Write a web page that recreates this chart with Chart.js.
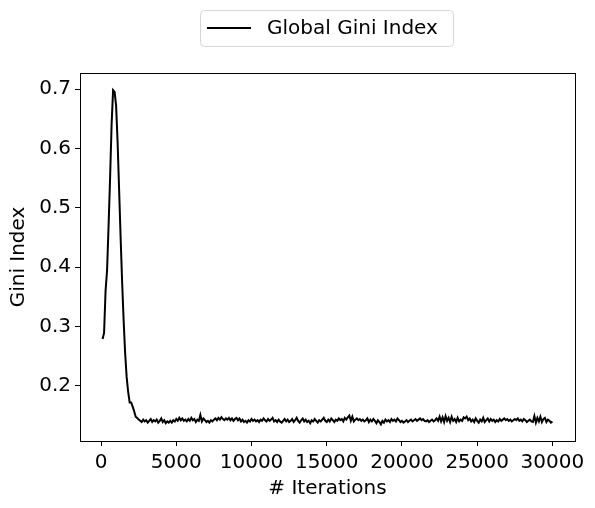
<!DOCTYPE html>
<html>
<head>
<meta charset="utf-8">
<script src="https://cdn.jsdelivr.net/npm/chart.js@4"></script>
<style>
  html, body { margin: 0; padding: 0; background: #fff; }
  #wrap { width: 595px; height: 508px; }
</style>
</head>
<body>
<div id="wrap"><canvas id="chart"></canvas></div>
<script>
// Gini index sampled every 100 iterations (100 .. 30000)
const ITER_STEP = 100;
const gini = [
  0.279, 0.289, 0.360, 0.395, 0.470, 0.550, 0.640, 0.698, 0.695, 0.672,
  0.610, 0.530, 0.450, 0.375, 0.310, 0.255, 0.215, 0.190, 0.172, 0.172,
  0.165, 0.157, 0.148, 0.146, 0.143,
  0.141, 0.139, 0.143, 0.140, 0.142, 0.138, 0.141, 0.144, 0.139, 0.142,
  0.140, 0.143, 0.138, 0.141, 0.145, 0.139, 0.142, 0.137, 0.140, 0.138,
  0.141, 0.138, 0.142, 0.140, 0.144, 0.141, 0.146, 0.142, 0.145, 0.141,
  0.143, 0.140, 0.144, 0.141, 0.146, 0.142, 0.144, 0.139, 0.143, 0.141,
  0.151, 0.140, 0.145, 0.142, 0.139, 0.141, 0.138, 0.142, 0.140, 0.143,
  0.145, 0.142, 0.146, 0.143, 0.147, 0.144, 0.142, 0.145, 0.143, 0.146,
  0.142, 0.145, 0.141, 0.144, 0.146, 0.142, 0.145, 0.140, 0.143, 0.139,
  0.141, 0.138, 0.142, 0.140, 0.144, 0.141, 0.143, 0.140, 0.142, 0.139,
  0.143, 0.141, 0.145, 0.142, 0.140, 0.144, 0.141, 0.143, 0.146, 0.140,
  0.142, 0.139, 0.143, 0.140, 0.138, 0.141, 0.144, 0.140, 0.143, 0.139,
  0.141, 0.144, 0.139, 0.142, 0.146, 0.141, 0.138, 0.142, 0.145, 0.140,
  0.143, 0.139, 0.141, 0.137, 0.142, 0.140, 0.144, 0.141, 0.138, 0.142,
  0.140, 0.143, 0.146, 0.141, 0.139, 0.143, 0.140, 0.145, 0.142, 0.139,
  0.143, 0.141, 0.145, 0.142, 0.144, 0.140, 0.146, 0.143, 0.147, 0.150,
  0.141, 0.148, 0.140, 0.143, 0.145, 0.142, 0.144, 0.141, 0.143, 0.140,
  0.142, 0.145, 0.139, 0.143, 0.140, 0.144, 0.141, 0.137, 0.142, 0.139,
  0.135, 0.141, 0.138, 0.143, 0.140, 0.142, 0.139, 0.144, 0.141, 0.143,
  0.140, 0.145, 0.142, 0.139, 0.141, 0.138, 0.140, 0.142, 0.139, 0.141,
  0.143, 0.140, 0.142, 0.144, 0.141, 0.143, 0.145, 0.142, 0.144, 0.141,
  0.140, 0.142, 0.139, 0.141, 0.143, 0.140, 0.142, 0.145, 0.141, 0.148,
  0.140, 0.147, 0.139, 0.149, 0.141, 0.146, 0.139, 0.148, 0.141, 0.144,
  0.139, 0.146, 0.140, 0.143, 0.141, 0.147, 0.145, 0.148, 0.142, 0.145,
  0.140, 0.143, 0.139, 0.145, 0.141, 0.138, 0.143, 0.140, 0.146, 0.139,
  0.142, 0.145, 0.140, 0.144, 0.141, 0.143, 0.139, 0.142, 0.140, 0.144,
  0.141, 0.143, 0.145, 0.142, 0.144, 0.141, 0.143, 0.140, 0.142, 0.144,
  0.142, 0.145, 0.141, 0.143, 0.140, 0.144, 0.142, 0.139, 0.141, 0.143,
  0.140, 0.139, 0.149, 0.138, 0.146, 0.140, 0.148, 0.139, 0.144, 0.146,
  0.139, 0.143, 0.141, 0.138, 0.140
];
const iterations = gini.map((_, i) => (i + 1) * ITER_STEP);

const xTicks = [0, 5000, 10000, 15000, 20000, 25000, 30000];
const yTicks = [0.2, 0.3, 0.4, 0.5, 0.6, 0.7];
const seriesLabel = 'Global Gini Index';
const xTitle = '# Iterations';
const yTitle = 'Gini Index';

const FONT = 'DejaVu Sans';
Chart.defaults.font.family = FONT;
Chart.defaults.font.size = 20;
Chart.defaults.color = '#000';

// frame around the plot area, like matplotlib's spines
const frame = {
  id: 'frame',
  afterDatasetsDraw(chart) {
    const { ctx, chartArea: a } = chart;
    ctx.save();
    ctx.strokeStyle = '#000';
    ctx.lineWidth = 1;
    ctx.strokeRect(a.left + 0.5, a.top + 0.5, a.right - a.left, a.bottom - a.top);
    ctx.restore();
  }
};

// matplotlib-style legend box above the axes
const boxLegend = {
  id: 'boxLegend',
  afterDraw(chart) {
    const { ctx } = chart;
    const ds = chart.data.datasets[0];
    const x = 200, y = 10, w = 253, h = 36, r = 4;
    ctx.save();
    ctx.beginPath();
    ctx.roundRect(x + 0.5, y + 0.5, w, h, r);
    ctx.fillStyle = 'rgba(255,255,255,0.8)';
    ctx.fill();
    ctx.strokeStyle = '#d6d6d6';
    ctx.lineWidth = 1;
    ctx.stroke();
    ctx.beginPath();
    ctx.moveTo(x + 7, y + h / 2);
    ctx.lineTo(x + 51, y + h / 2);
    ctx.strokeStyle = ds.borderColor;
    ctx.lineWidth = ds.borderWidth;
    ctx.stroke();
    ctx.fillStyle = '#000';
    ctx.font = `20px "${FONT}"`;
    ctx.textBaseline = 'middle';
    ctx.fillText(ds.label, x + 67, y + h / 2 + 1);
    ctx.restore();
  }
};

new Chart(document.getElementById('chart'), {
  type: 'line',
  data: {
    datasets: [{
      label: seriesLabel,
      data: iterations.map((it, i) => ({ x: it, y: gini[i] })),
      borderColor: '#000',
      borderWidth: 2,
      pointRadius: 0,
      tension: 0,
      fill: false
    }]
  },
  options: {
    responsive: true,
    maintainAspectRatio: false,
    animation: false,
    layout: { padding: { top: 73, right: 20, bottom: 0, left: 0 } },
    plugins: {
      legend: { display: false },
      tooltip: { enabled: false }
    },
    scales: {
      x: {
        type: 'linear',
        min: -1400,
        max: 31500,
        afterBuildTicks: s => { s.ticks = xTicks.map(v => ({ value: v })); },
        afterFit: s => { s.height = 67; s.paddingLeft = 0; s.paddingRight = 0; },
        grid: { drawOnChartArea: false, drawTicks: true, tickLength: 5, tickColor: '#000', tickWidth: 1 },
        border: { display: true, color: '#000', width: 1 },
        ticks: { padding: 5, maxRotation: 0, callback: v => String(v) },
        title: { display: true, text: xTitle, padding: { top: 0, bottom: 7 } }
      },
      y: {
        min: 0.107,
        max: 0.727,
        afterBuildTicks: s => { s.ticks = yTicks.map(v => ({ value: v })); },
        afterFit: s => { s.width = 80; s.paddingTop = 0; s.paddingBottom = 0; },
        grid: { drawOnChartArea: false, drawTicks: true, tickLength: 5, tickColor: '#000', tickWidth: 1 },
        border: { display: true, color: '#000', width: 1 },
        ticks: { padding: 4, callback: v => v.toFixed(1) },
        title: { display: true, text: yTitle, padding: { top: 7, bottom: 0 } }
      }
    }
  },
  plugins: [frame, boxLegend]
});
</script>
</body>
</html>
